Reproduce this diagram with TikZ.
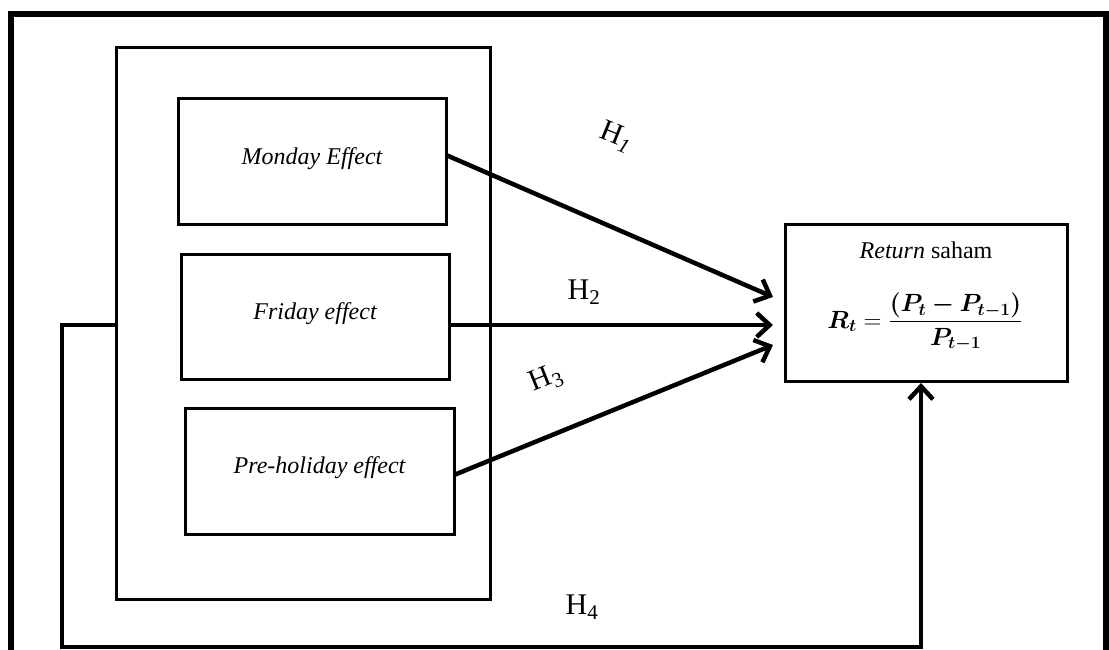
\documentclass[tikz,border=0pt]{standalone}
\usepackage{amsmath}
\usepackage{bm}
\usepackage{fontspec}
\setmainfont{Liberation Serif}
\usetikzlibrary{arrows.meta}
\newcommand{\retformula}{$\displaystyle \bm{R_t} = \frac{\bm{(P_t - P_{t-1})}}{\bm{P_{t-1}}}$}
\begin{document}
\begin{tikzpicture}[x=1pt,y=-1pt,
  box/.style={draw,line width=3pt,inner sep=0pt,font=\fontsize{24}{28}\selectfont\itshape},
  arr/.style={line width=4.5pt,-{Straight Barb[length=13pt,width=24pt,line width=4.5pt]}},
  fb/.style={line width=4.5pt},
  hlab/.style={font=\fontsize{30}{34}\selectfont},
  ftxt/.style={font=\fontsize{24}{28}\selectfont}]
\useasboundingbox (0,0) rectangle (1109,650);
% outer open frame
\draw[line width=6pt] (11,650) -- (11,14) -- (1106,14) -- (1106,650);
% group box
\node[box,minimum width=374pt,minimum height=551pt] (grp) at (303,323.5) {};
\node[box,minimum width=268pt,minimum height=125pt] (mon) at (312,161.5) {\raisebox{11pt}{Monday Effect}};
\node[box,minimum width=268pt,minimum height=125pt] (fri) at (315,316.5) {\raisebox{11pt}{Friday effect}};
\node[box,minimum width=269pt,minimum height=126pt] (pre) at (319.5,471) {\raisebox{11pt}{Pre-holiday effect}};
\node[box,minimum width=282pt,minimum height=157pt] (ret) at (926,302.5) {};
\node[ftxt] (rett) at (926,250) {\textit{Return} saham};
\node[font=\fontsize{23}{27}\selectfont] (form) at (925,322) {\retformula};
% arrow ends
\coordinate (s1) at (446,155);
\coordinate (s2) at (449,325);
\coordinate (s3) at (454,475);
\coordinate (t1) at (773,297);
\coordinate (t2) at (773,325);
\coordinate (t3) at (773,345);
\draw[arr] (s1) -- (t1);
\draw[arr] (s2) -- (t2);
\draw[arr] (s3) -- (t3);
% feedback
\coordinate (g1) at (116,325);
\coordinate (c1) at (62,325);
\coordinate (c2) at (62,647);
\coordinate (c3) at (921,647);
\coordinate (c4) at (921,649.2);
\coordinate (t4) at (921,383);
\draw[fb] (g1) -- (c1) -- (c2) -- (c3);
\draw[arr] (c4) -- (t4);
% labels
\node[hlab,rotate=-22] (h1) at (616,137) {H\textsubscript{\textit{1}}};
\node[hlab] (h2) at (584,292) {H\textsubscript{2}};
\node[hlab,rotate=22] (h3) at (546,379) {H\textsubscript{3}};
\node[hlab] (h4) at (582,607) {H\textsubscript{4}};
\end{tikzpicture}
\end{document}
